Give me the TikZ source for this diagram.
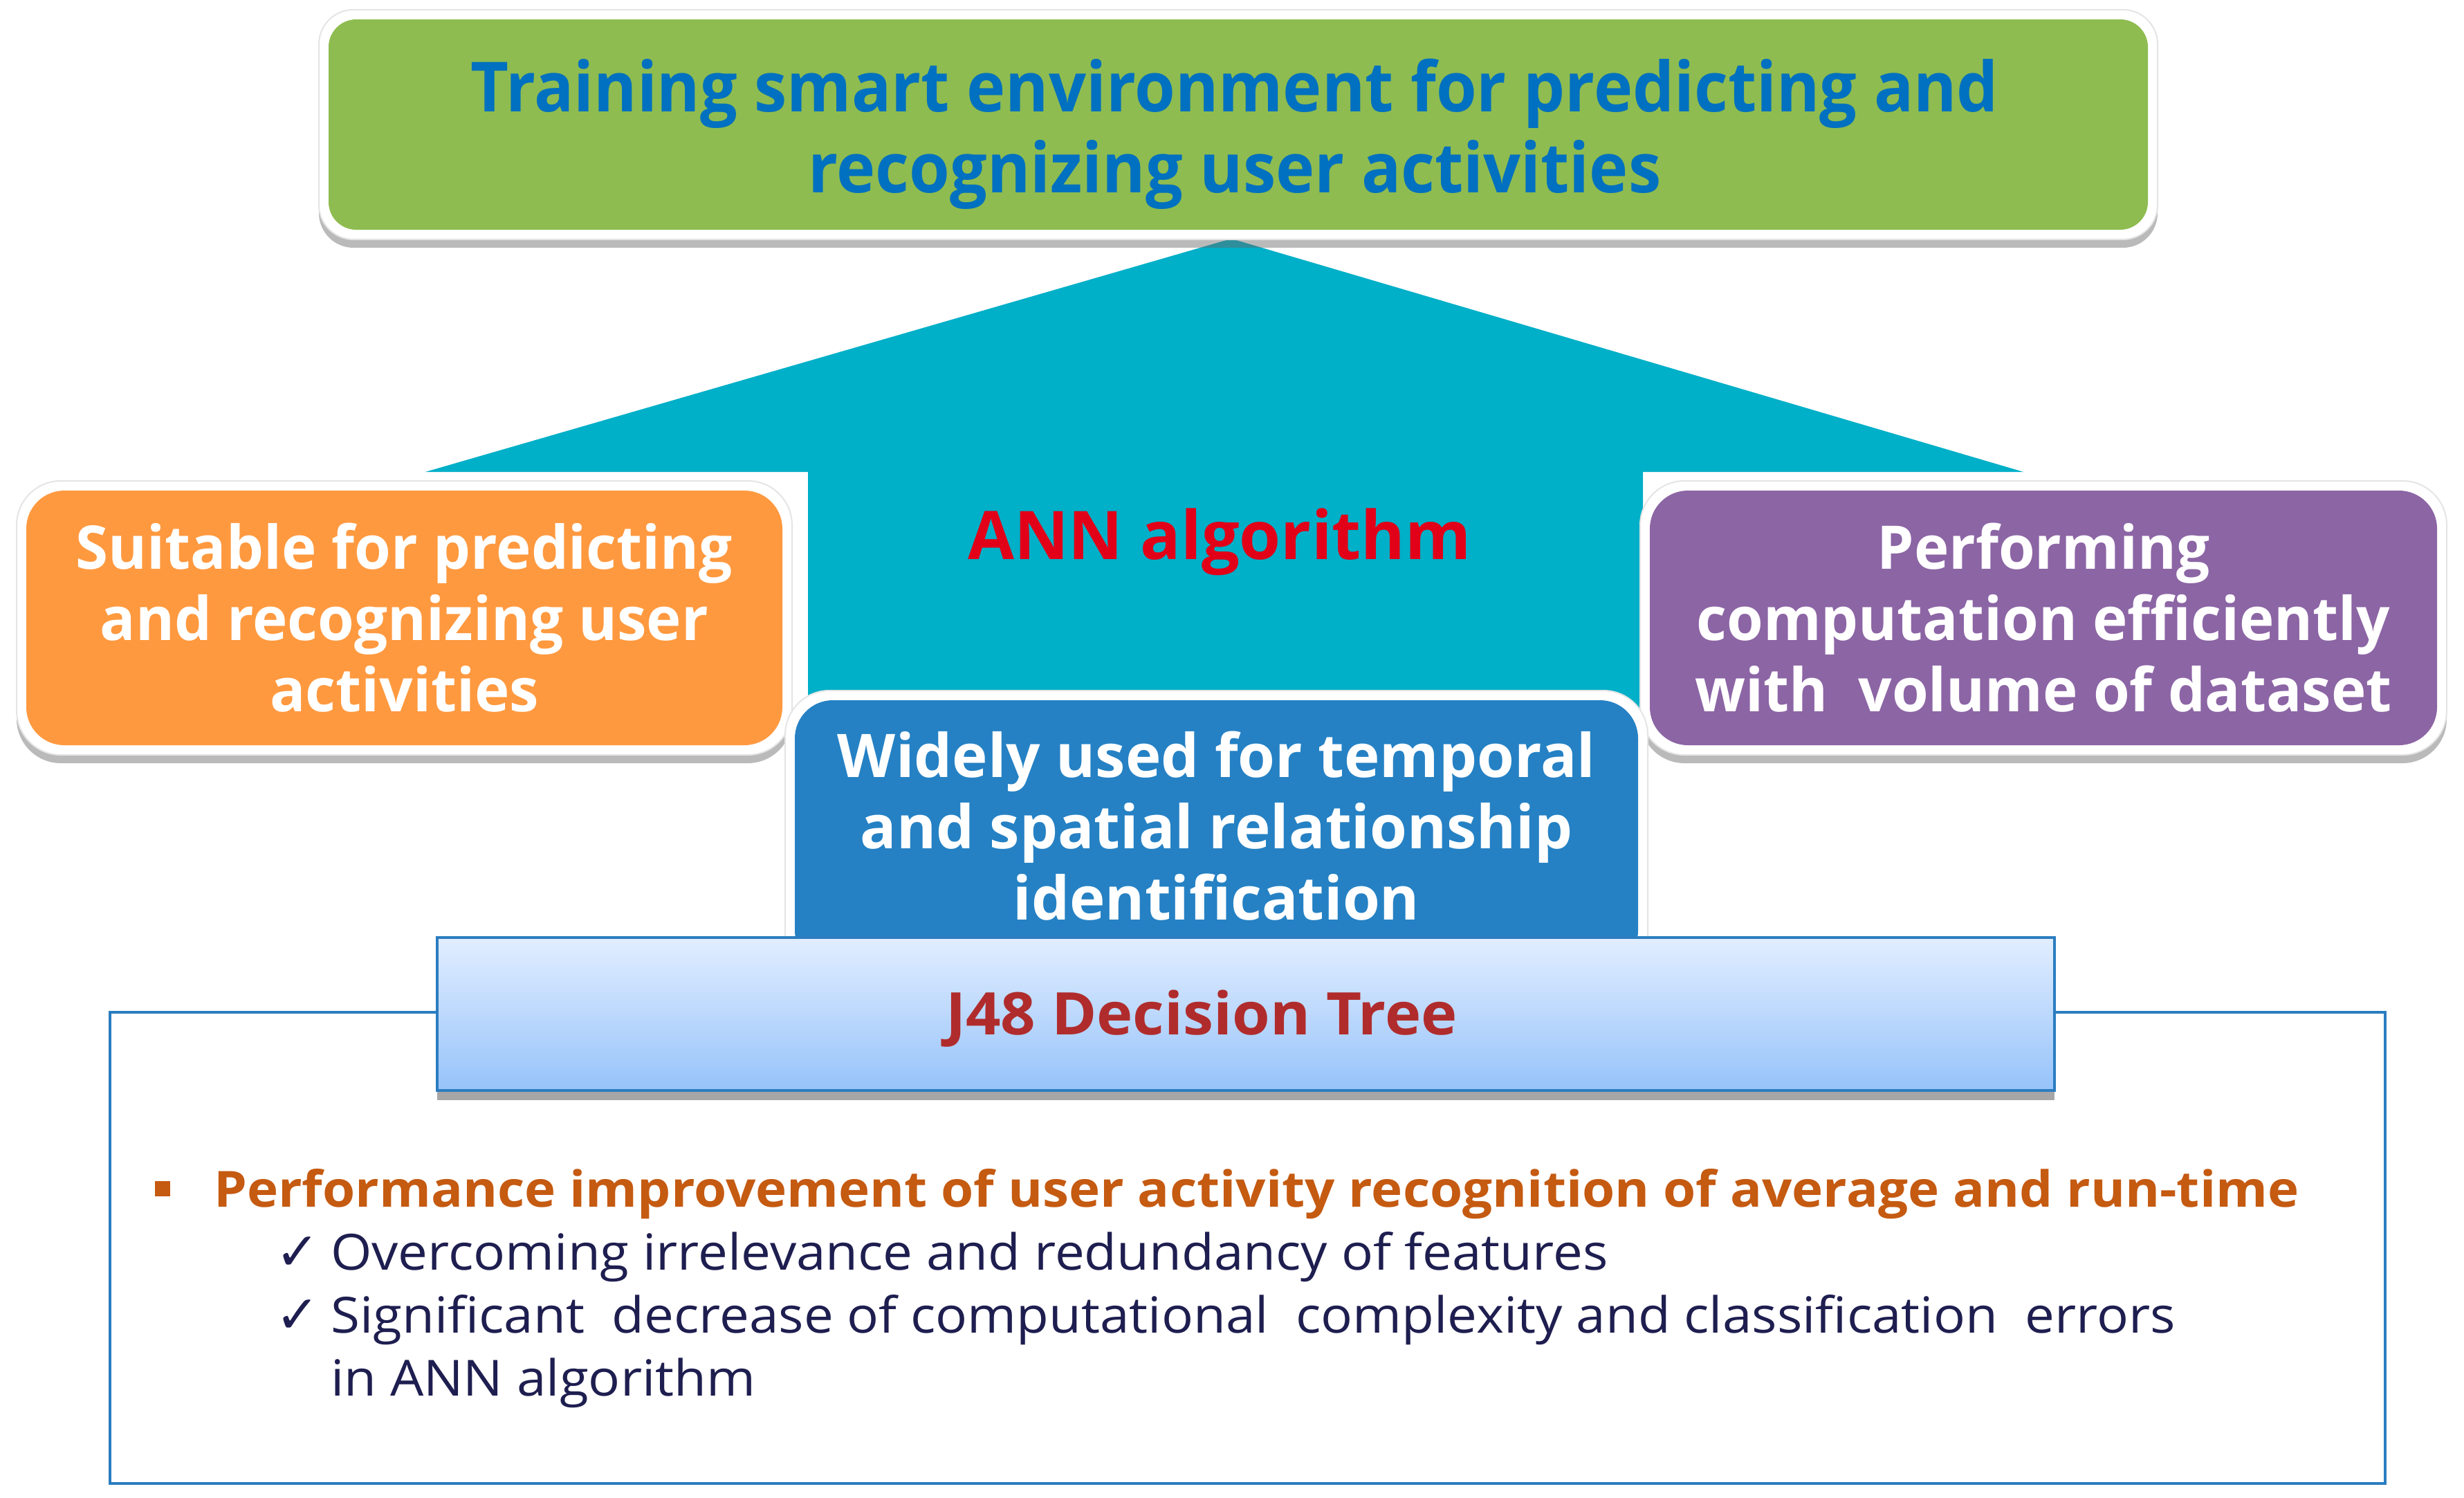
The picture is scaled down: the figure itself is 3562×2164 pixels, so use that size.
\documentclass[tikz,border=0pt]{standalone}
\usepackage{fontspec}
\setmainfont{Open Sans}
\newfontfamily\osTop[FakeStretch=0.95]{Open Sans}
\newfontfamily\osCard[FakeStretch=0.98]{Open Sans}
\newfontfamily\osBlue[FakeStretch=1.0]{Open Sans}
\newfontfamily\osJ[FakeStretch=1.04]{Open Sans}
\newfontfamily\osBul[FakeStretch=1.06]{Open Sans}
\newfontfamily\osChk[FakeStretch=1.06]{Open Sans}
\newfontfamily\djv{DejaVu Sans}
\usetikzlibrary{shadows}
\definecolor{cgreen}{HTML}{8EBC50}
\definecolor{ctop}{HTML}{0070C0}
\definecolor{ccyan}{HTML}{00AFC8}
\definecolor{corange}{HTML}{FF993F}
\definecolor{cpurple}{HTML}{8C65A5}
\definecolor{cblue}{HTML}{2581C4}
\definecolor{cred}{HTML}{E20018}
\definecolor{cjred}{HTML}{B02C2C}
\definecolor{cjtop}{HTML}{E2EEFF}
\definecolor{cjbot}{HTML}{96C3FA}
\definecolor{cline}{HTML}{2B7DC0}
\definecolor{cbul}{HTML}{C55A11}
\definecolor{cnavy}{HTML}{1E1E50}
\newcommand{\fTop}{\osTop\bfseries\fontsize{100}{117}\selectfont}
\newcommand{\fCard}{\osCard\bfseries\fontsize{87}{103}\selectfont}
\newcommand{\fBlue}{\osBlue\bfseries\fontsize{87}{103}\selectfont}
\newcommand{\fAnn}{\osBlue\bfseries\fontsize{97}{110}\selectfont}
\newcommand{\fJ}{\osJ\bfseries\fontsize{85}{100}\selectfont}
\newcommand{\fBul}{\osBul\bfseries\fontsize{72}{90}\selectfont}
\newcommand{\fChk}{\osChk\fontsize{72}{90}\selectfont}
\tikzset{
  frame/.style={draw=black!10, line width=2pt, fill=white, rounded corners=64pt,
    drop shadow={shadow xshift=0pt, shadow yshift=-12pt, opacity=0.45, fill=black!60}},
  card/.style={rounded corners=55pt, inner sep=0pt, align=center, text=white, font=\fCard},
  bul/.style={anchor=base west, inner sep=0pt, text=cbul, font=\fBul},
  chk/.style={anchor=base west, inner sep=0pt, text=cnavy, font=\fChk},
  tick/.style={anchor=base west, inner sep=0pt, text=cnavy, font=\djv\fontsize{76}{80}\selectfont},
}
\begin{document}
\begin{tikzpicture}[x=1pt,y=-1pt]
\useasboundingbox (0,0) rectangle (3562,2164);
\fill[white] (0,0) rectangle (3562,2164);
% arrow
\fill[ccyan] (1780,345) -- (2925,682) -- (2375,682) -- (2375,1100) -- (1168,1100) -- (1168,682) -- (615,682) -- cycle;
\node[text=cred, font=\fAnn, inner sep=0pt] (ann) at (1763,783) {ANN algorithm};
% top box
\node[frame, minimum width=2658, minimum height=332, rounded corners=50pt] (topf) at (1790,180) {};
\node[card, fill=cgreen, minimum width=2630, minimum height=304, rounded corners=40pt] (top) at (1790,180) {};
\node[align=center, text=ctop, font=\fTop, inner sep=0pt] (toptxt) at (1785,194)
  {Training smart environment for predicting and\\recognizing user activities};
% orange
\node[frame, minimum width=1121, minimum height=396] (orf) at (584.5,893) {};
\node[card, fill=corange, minimum width=1093, minimum height=368] (or) at (584.5,893)
  {Suitable for predicting\\and recognizing user\\activities};
% purple
\node[frame, minimum width=1166, minimum height=396] (puf) at (2954,893) {};
\node[card, fill=cpurple, minimum width=1138, minimum height=368] (pu) at (2954,893)
  {Performing\\computation efficiently\\with\ \ volume of dataset};
% blue
\node[frame, minimum width=1247, minimum height=416] (blf) at (1758.5,1206) {};
\node[card, fill=cblue, minimum width=1219, minimum height=388] (bl) at (1758.5,1206) {};
\node[align=center, text=white, font=\fBlue, inner sep=0pt] (bltxt) at (1758.5,1194)
  {Widely used for temporal\\and spatial relationship\\identification};
% panel
\node[draw=cline, line width=4pt, minimum width=3289, minimum height=681, anchor=north west, inner sep=0pt] (panel) at (157,1461) {};
% J48
\fill[black!35] (632,1570) rectangle (2970,1590);
\node[draw=cline, line width=4pt, top color=cjtop, bottom color=cjbot, minimum width=2338, minimum height=221, inner sep=0pt] (j48) at (1801,1465.5) {};
\node[text=cjred, font=\fJ, inner sep=0pt] (j48txt) at (1737,1472) {J48 Decision Tree};
% bullets
\node[fill=cbul, minimum size=22pt, inner sep=0pt] (sq) at (235,1718) {};
\node[bul] (b1) at (309,1744) {Performance improvement of user activity recognition of average and run-time};
\node[tick] (k1) at (398,1835) {✓};
\node[chk] (c1) at (478,1835) {Overcoming irrelevance and redundancy of features};
\node[tick] (k2) at (398,1926) {✓};
\node[chk] (c2) at (478,1926) {Significant\ \ decrease of computational\ \ complexity and classification\ \ errors};
\node[chk] (c3) at (478,2017) {in ANN algorithm};
\end{tikzpicture}
\end{document}
